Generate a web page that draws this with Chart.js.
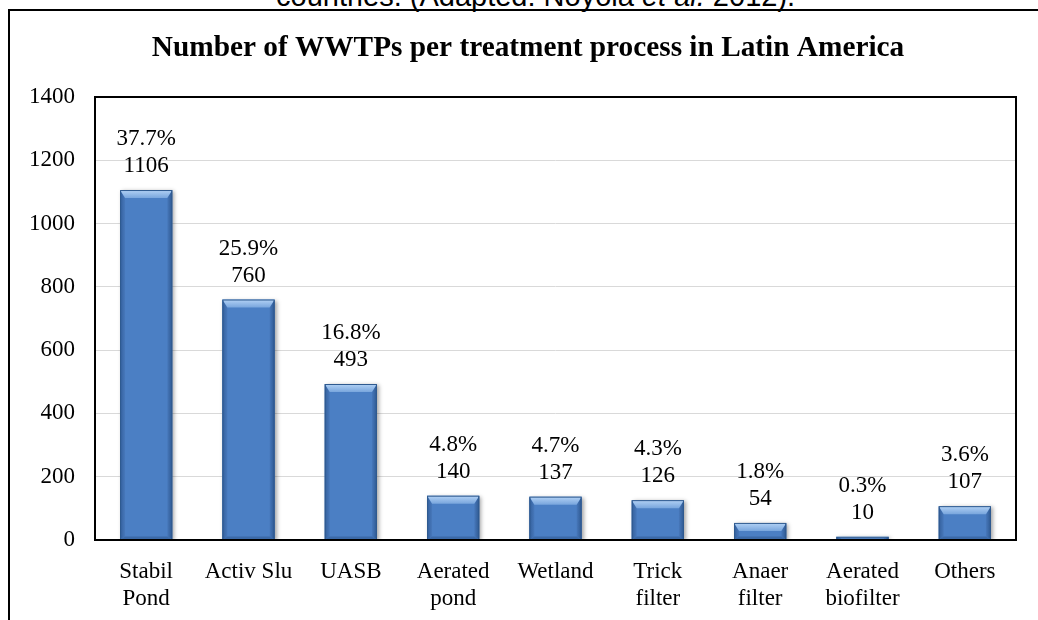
<!DOCTYPE html>
<html>
<head>
<meta charset="utf-8">
<script src="https://cdn.jsdelivr.net/npm/chart.js@4.4.1/dist/chart.umd.min.js"></script>
<style>
  html, body { margin: 0; padding: 0; background: #fff; overflow: hidden; }
  #wrap { position: relative; width: 1038px; height: 620px; overflow: hidden; }
  #caption { position: absolute; left: 276px; top: -18px; white-space: nowrap;
    font-family: 'Liberation Sans', Arial, sans-serif; font-size: 29px; line-height: 29px; color: #000; }
  #frame { position: absolute; left: 8px; top: 9px; width: 1200px; height: 800px;
    border-left: 2px solid #000; border-top: 2px solid #000; }
  canvas { position: absolute; left: 0; top: 0; }
</style>
</head>
<body>
<div id="wrap">
  <div id="caption">countries. (Adapted: Noyola <i>et al.</i> 2012).</div>
  <div id="frame"></div>
  <canvas id="c" width="1038" height="620"></canvas>
</div>
<script>
const categories = [["Stabil","Pond"],"Activ Slu","UASB",["Aerated","pond"],"Wetland",["Trick","filter"],["Anaer","filter"],["Aerated","biofilter"],"Others"];
const plantCounts = [1106, 760, 493, 140, 137, 126, 54, 10, 107];
const percentLabels = ["37.7%","25.9%","16.8%","4.8%","4.7%","4.3%","1.8%","0.3%","3.6%"];
const yMin = 0, yMax = 1400, yStep = 200;
const titleText = "Number of WWTPs per treatment process in Latin America";

const SERIF = "'Liberation Serif', 'Times New Roman', serif";
Chart.defaults.font.family = SERIF;
Chart.defaults.color = '#000';

const titlePlugin = {
  id: 'centeredTitle',
  afterDraw(chart) {
    const ctx = chart.ctx;
    ctx.save();
    ctx.font = 'bold 29.3px ' + SERIF;
    ctx.fillStyle = '#000';
    ctx.textAlign = 'center';
    ctx.textBaseline = 'alphabetic';
    ctx.fillText(titleText, 528, 56);
    ctx.restore();
  }
};

const shadowPlugin = {
  id: 'barShadow',
  beforeDatasetsDraw(chart) {
    const ctx = chart.ctx;
    ctx.save();
    ctx.shadowColor = 'rgba(0,0,0,0.35)';
    ctx.shadowBlur = 4;
    ctx.shadowOffsetX = 2;
    ctx.shadowOffsetY = 1;
  },
  afterDatasetsDraw(chart) {
    chart.ctx.restore();
  }
};

const bevelPlugin = {
  id: 'bevel',
  afterDatasetsDraw(chart) {
    const ctx = chart.ctx;
    const meta = chart.getDatasetMeta(0);
    meta.data.forEach((el) => {
      const p = el.getProps(['x','y','base','width'], true);
      const l = p.x - p.width / 2, r = p.x + p.width / 2;
      const t = Math.min(p.y, p.base), b = Math.max(p.y, p.base);
      const h = b - t;
      const bh = Math.min(8, h / 2);
      const sw = Math.min(5, p.width / 4);
      const bb = Math.min(3, h / 2);
      ctx.save();
      const gl = ctx.createLinearGradient(l, 0, l + sw, 0);
      gl.addColorStop(0, '#335f9b');
      gl.addColorStop(1, '#4778bb');
      ctx.fillStyle = gl;
      ctx.beginPath();
      ctx.moveTo(l, t); ctx.lineTo(l + sw, t + bh); ctx.lineTo(l + sw, b - bb); ctx.lineTo(l, b); ctx.closePath();
      ctx.fill();
      const gr = ctx.createLinearGradient(r - sw, 0, r, 0);
      gr.addColorStop(0, '#4778bb');
      gr.addColorStop(1, '#2e5890');
      ctx.fillStyle = gr;
      ctx.beginPath();
      ctx.moveTo(r, t); ctx.lineTo(r - sw, t + bh); ctx.lineTo(r - sw, b - bb); ctx.lineTo(r, b); ctx.closePath();
      ctx.fill();
      ctx.fillStyle = '#3c6aa8';
      ctx.beginPath();
      ctx.moveTo(l, b); ctx.lineTo(l + sw, b - bb); ctx.lineTo(r - sw, b - bb); ctx.lineTo(r, b); ctx.closePath();
      ctx.fill();
      const g = ctx.createLinearGradient(0, t, 0, t + bh);
      g.addColorStop(0, '#b3d2f5');
      g.addColorStop(1, '#79a6dd');
      ctx.fillStyle = g;
      ctx.beginPath();
      ctx.moveTo(l, t); ctx.lineTo(r, t); ctx.lineTo(r - sw, t + bh); ctx.lineTo(l + sw, t + bh); ctx.closePath();
      ctx.fill();
      ctx.strokeStyle = '#2f5a8f';
      ctx.lineWidth = 1;
      ctx.strokeRect(l + 0.5, t + 0.5, p.width - 1, Math.max(h - 0.5, 0.5));
      ctx.restore();
    });
  }
};

const labelPlugin = {
  id: 'dataLabels',
  afterDatasetsDraw(chart) {
    const ctx = chart.ctx;
    const meta = chart.getDatasetMeta(0);
    ctx.save();
    ctx.font = '23px ' + SERIF;
    ctx.fillStyle = '#000';
    ctx.textAlign = 'center';
    ctx.textBaseline = 'middle';
    meta.data.forEach((el, i) => {
      const p = el.getProps(['x','y'], true);
      ctx.fillText(String(plantCounts[i]), p.x, p.y - 24);
      ctx.fillText(percentLabels[i], p.x, p.y - 51);
    });
    ctx.restore();
  }
};

const borderPlugin = {
  id: 'plotBorder',
  afterDraw(chart) {
    const a = chart.chartArea, ctx = chart.ctx;
    ctx.save();
    ctx.strokeStyle = '#000';
    ctx.lineWidth = 2;
    ctx.strokeRect(a.left, a.top, a.right - a.left, a.bottom - a.top);
    ctx.restore();
  }
};

new Chart(document.getElementById('c'), {
  type: 'bar',
  data: {
    labels: categories,
    datasets: [{
      data: plantCounts,
      backgroundColor: '#4b7fc4',
      borderWidth: 0,
      categoryPercentage: 1,
      barPercentage: 0.51
    }]
  },
  options: {
    responsive: false,
    animation: false,
    devicePixelRatio: 1,
    layout: { padding: { top: 97, left: 0, right: 22, bottom: 0 } },
    plugins: {
      legend: { display: false },
      tooltip: { enabled: false },
      title: { display: false }
    },
    scales: {
      x: {
        grid: { display: false, drawTicks: false },
        border: { display: false },
        ticks: { padding: 18, font: { size: 23, lineHeight: 1.2 }, color: '#000', maxRotation: 0, autoSkip: false },
        afterFit(s) { s.height = 80; }
      },
      y: {
        min: yMin, max: yMax,
        grid: { color: '#d9d9d9', lineWidth: 1, drawTicks: false },
        border: { display: false },
        ticks: { stepSize: yStep, padding: 20, font: { size: 23 }, color: '#000',
          callback: (v) => String(v) },
        afterFit(s) { s.width = 95; }
      }
    }
  },
  plugins: [shadowPlugin, bevelPlugin, labelPlugin, borderPlugin, titlePlugin]
});
</script>
</body>
</html>
